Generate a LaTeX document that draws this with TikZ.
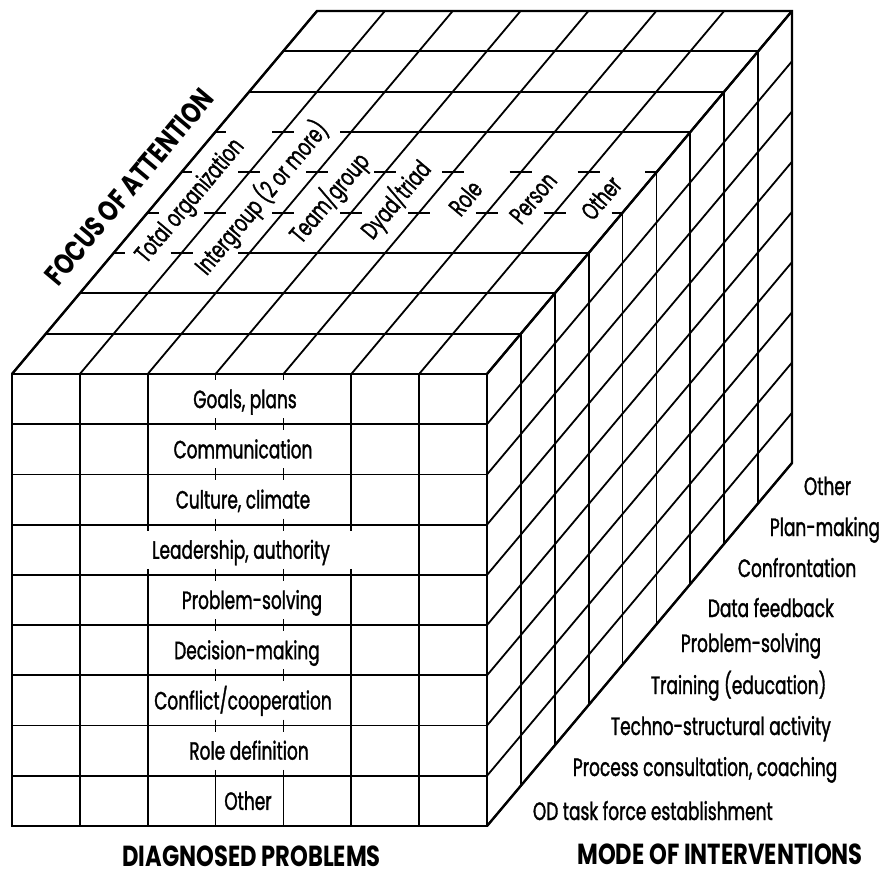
\documentclass[tikz,border=0pt]{standalone}
\usepackage{fontspec}
\newfontfamily\labfont{Poppins}[FakeStretch=0.68,FakeBold=1.3]
\newfontfamily\titfont{Poppins}[FakeStretch=0.78]
\begin{document}
\begin{tikzpicture}[x=1pt,y=-1pt,line width=1.8pt,
  grid/.style={line width=1.8pt},
  outer/.style={line width=2.4pt,line join=miter},
  lab/.style={font=\labfont\fontsize{25}{27}\selectfont,inner sep=0pt},
  toplab/.style={lab,rotate=50,anchor=center},
  sidelab/.style={lab,anchor=base west},
  title/.style={font=\titfont\bfseries\fontsize{29}{31}\selectfont,inner sep=0pt}]
\useasboundingbox (0,0) rectangle (885,877);
\def\cw{67.857}
\def\rh{50.222}
\def\ddx{33.889}
\def\ddy{40.333}
\def\T{11}
% ---------- front face ----------
\foreach \r in {0,...,9} \draw[grid] (12,{374+\r*\rh}) -- (487,{374+\r*\rh});
\foreach \c in {0,1,6,7} \draw[grid] ({12+\c*\cw},374) -- ({12+\c*\cw},826);
\foreach \c in {2,5} {
  \draw[grid] ({12+\c*\cw},374) -- ({12+\c*\cw},{374+3*\rh+6});
  \draw[grid] ({12+\c*\cw},{374+4*\rh-6}) -- ({12+\c*\cw},826);
}
\foreach \c in {3,4} {
  \draw[grid] ({12+\c*\cw},374) -- ({12+\c*\cw},380);
  \foreach \r in {1,...,7} \draw[grid] ({12+\c*\cw},{374+\r*\rh-6}) -- ++(0,12);
  \draw[grid] ({12+\c*\cw},{374+8*\rh-6}) -- ({12+\c*\cw},826);
}
% ---------- top face ----------
\foreach \c in {0,...,7} \draw[grid] ({12+\c*\cw},374) -- ++(305,-363);
\foreach \k in {1,2,7,8,9} \draw[grid] ({12+\k*\ddx},{374-\k*\ddy}) -- ++(475,0);
\foreach \k in {3,6} {
  \draw[grid] ({12+\k*\ddx},{374-\k*\ddy}) -- ++(\T,0);
  \draw[grid] ({12+\k*\ddx+\cw-\T},{374-\k*\ddy}) -- ++({2*\T},0);
  \draw[grid] ({12+\k*\ddx+2*\cw-\T},{374-\k*\ddy}) -- ({487+\k*\ddx},{374-\k*\ddy});
}
\foreach \k in {4,5} {
  \draw[grid] ({12+\k*\ddx},{374-\k*\ddy}) -- ++(\T,0);
  \foreach \c in {1,...,6}
    \draw[grid] ({12+\k*\ddx+\c*\cw-\T},{374-\k*\ddy}) -- ++({2*\T},0);
  \draw[grid] ({487+\k*\ddx-\T},{374-\k*\ddy}) -- ++(\T,0);
}
% ---------- right face ----------
\foreach \r in {0,...,9} \draw[grid] (487,{374+\r*\rh}) -- ++(305,-363);
\foreach \k in {1,...,9} \draw[grid] ({487+\k*\ddx},{374-\k*\ddy}) -- ++(0,452);
% ---------- outer edges ----------
\draw[outer] (12,374) rectangle (487,826);
\draw[outer] (12,374) -- (317,11) -- (792,11) -- (792,463) -- (487,826);
\draw[outer] (487,374) -- (792,11);
% ---------- front labels ----------
\node[lab,anchor=base] (dp1) at (245,{374+0.5*\rh+9}) {Goals, plans};
\node[lab,anchor=base] (dp2) at (243,{374+1.5*\rh+9}) {Communication};
\node[lab,anchor=base] (dp3) at (243,{374+2.5*\rh+9}) {Culture, climate};
\node[lab,anchor=base] (dp4) at (241,{374+3.5*\rh+9}) {Leadership, authority};
\node[lab,anchor=base] (dp5) at (252,{374+4.5*\rh+9}) {Problem-solving};
\node[lab,anchor=base] (dp6) at (247,{374+5.5*\rh+9}) {Decision-making};
\node[lab,anchor=base] (dp7) at (243,{374+6.5*\rh+9}) {Conflict/cooperation};
\node[lab,anchor=base] (dp8) at (249,{374+7.5*\rh+9}) {Role definition};
\node[lab,anchor=base] (dp9) at (248,{374+8.5*\rh+9}) {Other};
% ---------- top labels ----------
\node[toplab] (fa1) at ({12+0.5*\cw+0.475*305},{374-0.475*363}) {Total organization};
\node[toplab] (fa2) at ({12+1.5*\cw+0.485*305},{374-0.485*363}) {Intergroup (2 or more)};
\node[toplab] (fa3) at ({12+2.5*\cw+0.485*305},{374-0.485*363}) {Team/group};
\node[toplab] (fa4) at ({12+3.5*\cw+0.48*305},{374-0.48*363}) {Dyad/triad};
\node[toplab] (fa5) at ({12+4.5*\cw+0.485*305},{374-0.485*363}) {Role};
\node[toplab] (fa6) at ({12+5.5*\cw+0.485*305},{374-0.485*363}) {Person};
\node[toplab] (fa7) at ({12+6.5*\cw+0.485*305},{374-0.485*363}) {Other};
% ---------- side labels ----------
\node[sidelab] (mi1) at (532,820) {OD task force establishment};
\node[sidelab] (mi2) at (572,776) {Process consultation, coaching};
\node[sidelab] (mi3) at (610,735) {Techno-structural activity};
\node[sidelab] (mi4) at (650,694) {Training (education)};
\node[sidelab] (mi5) at (680,652) {Problem-solving};
\node[sidelab] (mi6) at (707,617) {Data feedback};
\node[sidelab] (mi7) at (737,577) {Confrontation};
\node[sidelab] (mi8) at (769,536) {Plan-making};
\node[sidelab] (mi9) at (803,495) {Other};
% ---------- titles ----------
\node[title,rotate=50] (tfa) at (129,187) {FOCUS OF ATTENTION};
\node[title,anchor=base] (tdp) at (251.5,866) {DIAGNOSED PROBLEMS};
\node[title,anchor=base] (tmi) at (720,864) {MODE OF INTERVENTIONS};
\end{tikzpicture}
\end{document}
